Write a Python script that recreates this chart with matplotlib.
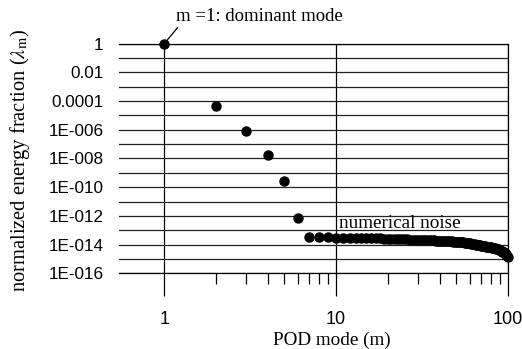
import matplotlib
matplotlib.use("Agg")
import matplotlib.pyplot as plt
from matplotlib.ticker import FixedLocator, FixedFormatter, NullFormatter

# POD eigenvalue spectrum
modes = list(range(1, 101))
energy = [
    1.0, 4.5e-5, 8.5e-7, 1.7e-8, 2.7e-10, 7.4e-13,
    3.5e-14, 3.3e-14, 3.15e-14, 3.05e-14, 3.0e-14, 2.95e-14, 2.9e-14, 2.85e-14,
    2.8e-14, 2.75e-14, 2.7e-14, 2.65e-14, 2.6e-14, 2.55e-14, 2.5e-14, 2.45e-14,
    2.4e-14, 2.35e-14, 2.3e-14, 2.28e-14, 2.25e-14, 2.2e-14, 2.18e-14, 2.15e-14,
    2.1e-14, 2.08e-14, 2.05e-14, 2.02e-14, 2.0e-14, 1.97e-14, 1.94e-14, 1.91e-14,
    1.88e-14, 1.85e-14, 1.82e-14, 1.79e-14, 1.76e-14, 1.73e-14, 1.7e-14, 1.67e-14,
    1.64e-14, 1.61e-14, 1.58e-14, 1.55e-14, 1.52e-14, 1.49e-14, 1.46e-14, 1.43e-14,
    1.4e-14, 1.36e-14, 1.32e-14, 1.28e-14, 1.24e-14, 1.2e-14, 1.16e-14, 1.12e-14,
    1.08e-14, 1.04e-14, 1.0e-14, 9.7e-15, 9.4e-15, 9.1e-15, 8.8e-15, 8.5e-15,
    8.2e-15, 7.9e-15, 7.7e-15, 7.5e-15, 7.3e-15, 7.1e-15, 6.9e-15, 6.7e-15,
    6.5e-15, 6.3e-15, 6.1e-15, 5.9e-15, 5.7e-15, 5.5e-15, 5.3e-15, 5.1e-15,
    4.9e-15, 4.6e-15, 4.3e-15, 4.0e-15, 3.7e-15, 3.4e-15, 3.2e-15, 3.0e-15,
    2.8e-15, 2.5e-15, 2.2e-15, 1.9e-15, 1.6e-15, 1.3e-15,
]

x_ticks = [1, 10, 100]
x_ticklabels = ["1", "10", "100"]
y_ticks = [1, 1e-2, 1e-4, 1e-6, 1e-8, 1e-10, 1e-12, 1e-14, 1e-16]
y_ticklabels = ["1", "0.01", "0.0001", "1E-006", "1E-008", "1E-010",
                "1E-012", "1E-014", "1E-016"]
y_grid_odd = [1e-1, 1e-3, 1e-5, 1e-7, 1e-9, 1e-11, 1e-13, 1e-15]
x_minor = [2, 3, 4, 5, 6, 7, 8, 9, 20, 30, 40, 50, 60, 70, 80, 90]

plt.rcParams["mathtext.fontset"] = "stix"
serif = "Liberation Serif"
sans = "Liberation Sans"

fig = plt.figure(figsize=(5.22, 3.49), dpi=100)
ax = fig.add_axes([0.228, 0.217, 0.745, 0.658])

ax.plot(modes, energy, "o", color="black", markersize=6.5, clip_on=False, zorder=5)

ax.set_xscale("log")
ax.set_yscale("log")
ax.set_xlim(0.545, 100)
ax.set_ylim(1e-16, 1)

ax.xaxis.set_major_locator(FixedLocator(x_ticks))
ax.xaxis.set_major_formatter(FixedFormatter(x_ticklabels))
ax.xaxis.set_minor_locator(FixedLocator(x_minor))
ax.xaxis.set_minor_formatter(NullFormatter())
ax.yaxis.set_major_locator(FixedLocator(y_ticks))
ax.yaxis.set_major_formatter(FixedFormatter(y_ticklabels))
ax.yaxis.set_minor_locator(FixedLocator(y_grid_odd))
ax.yaxis.set_minor_formatter(NullFormatter())

ax.grid(True, which="major", axis="x", color="black", linewidth=0.9)
ax.grid(True, which="both", axis="y", color="#222222", linewidth=0.9)

ax.tick_params(axis="x", which="major", direction="out", length=16.5, width=0.9,
               pad=10.5, labelsize=13)
ax.tick_params(axis="x", which="minor", direction="out", length=8, width=0.9)
ax.tick_params(axis="y", which="both", length=0, pad=11, labelsize=12.3)
for lab in ax.get_xticklabels() + ax.get_yticklabels():
    lab.set_fontfamily(sans)

ax.spines["left"].set_visible(False)
for s in ["top", "right", "bottom"]:
    ax.spines[s].set_linewidth(0.9)

ax.set_xlabel("POD mode (m)", fontsize=13.8, family=serif, va="center")
ax.xaxis.set_label_coords(0.548, -0.29)
ax.set_ylabel(r"normalized energy fraction ($\lambda_{\rm m}$)", fontsize=14.8,
              family=serif, va="center")
ax.yaxis.set_label_coords(-0.254, 0.49)

ax.annotate("m =1: dominant mode", xy=(1, 1), xytext=(1.17, 80),
            fontsize=13.5, family=serif, va="center", ha="left",
            arrowprops=dict(arrowstyle="-", color="black", lw=0.9,
                            shrinkA=0, shrinkB=3.5, relpos=(0.04, 0.2)),
            annotation_clip=False)
ax.text(10.4, 3e-13, "numerical noise", fontsize=13.75, family=serif,
        va="center", ha="left")

fig.savefig("out.png", dpi=100)
